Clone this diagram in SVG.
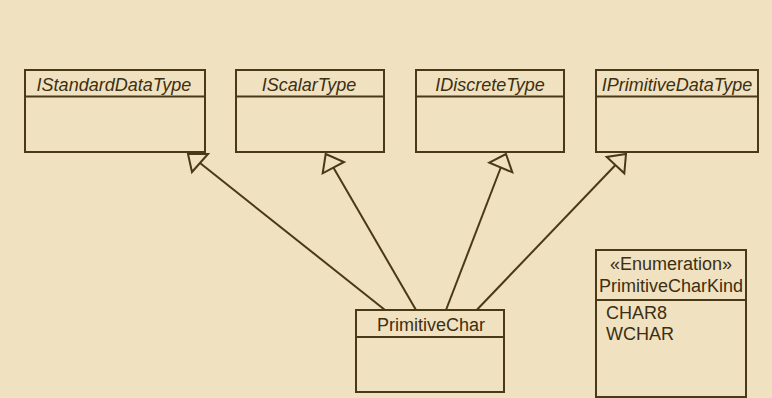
<svg xmlns="http://www.w3.org/2000/svg" width="772" height="398" viewBox="0 0 772 398">
<style>
.box{fill:#F0E2C0;stroke:#4A3917;stroke-width:2}
.sep{stroke:#4A3917;stroke-width:2}
.t{font-family:"Liberation Sans",Arial,sans-serif;font-size:18px;fill:#3D2F12}
.i{font-style:italic}
.c{text-anchor:middle}
.edge{stroke:#4A3917;stroke-width:2;fill:none}
.head{stroke:#4A3917;stroke-width:2;fill:#F0E2C0;stroke-linejoin:miter}
</style>
<rect x="0" y="0" width="772" height="398" fill="#F0E2C0"/>
<g id="IStandardDataType">
<rect class="box" x="25" y="70" width="180" height="82"/>
<line class="sep" x1="25" y1="96.5" x2="206" y2="96.5"/>
<text class="t i c" x="114" y="90.5">IStandardDataType</text>
</g>
<g id="IScalarType">
<rect class="box" x="236" y="70" width="148" height="82"/>
<line class="sep" x1="236" y1="96.5" x2="385" y2="96.5"/>
<text class="t i c" x="309" y="90.5">IScalarType</text>
</g>
<g id="IDiscreteType">
<rect class="box" x="416" y="70" width="148" height="82"/>
<line class="sep" x1="416" y1="96.5" x2="565" y2="96.5"/>
<text class="t i c" x="490" y="90.5">IDiscreteType</text>
</g>
<g id="IPrimitiveDataType">
<rect class="box" x="596" y="70" width="162" height="82"/>
<line class="sep" x1="596" y1="96.5" x2="759" y2="96.5"/>
<text class="t i c" x="677" y="90.5">IPrimitiveDataType</text>
</g>
<g id="PrimitiveChar">
<rect class="box" x="356" y="310" width="148" height="82"/>
<line class="sep" x1="356" y1="337" x2="505" y2="337"/>
<text class="t c" x="431" y="330.5">PrimitiveChar</text>
</g>
<g id="PrimitiveCharKind">
<rect class="box" x="596" y="250" width="150" height="147"/>
<line class="sep" x1="596" y1="300" x2="747" y2="300"/>
<text class="t c" x="671" y="269.5">«Enumeration»</text>
<text class="t c" x="671" y="291.5">PrimitiveCharKind</text>
<text class="t" x="606" y="318.5">CHAR8</text>
<text class="t" x="606" y="340">WCHAR</text>
</g>
<g id="connectors">
<line class="edge" x1="385" y1="310" x2="200" y2="163"/>
<polygon class="head" points="188,154 208,154 192,172"/>
<line class="edge" x1="416" y1="310" x2="333.5" y2="167.7"/>
<polygon class="head" points="325.7,154 344,162 322.7,173.3"/>
<line class="edge" x1="446" y1="310" x2="500.8" y2="167.5"/>
<polygon class="head" points="506,154 512.3,172.3 489.3,162.7"/>
<line class="edge" x1="476.7" y1="310" x2="615.5" y2="165"/>
<polygon class="head" points="626,154 624.3,173.3 606.7,157"/>
</g>
</svg>
